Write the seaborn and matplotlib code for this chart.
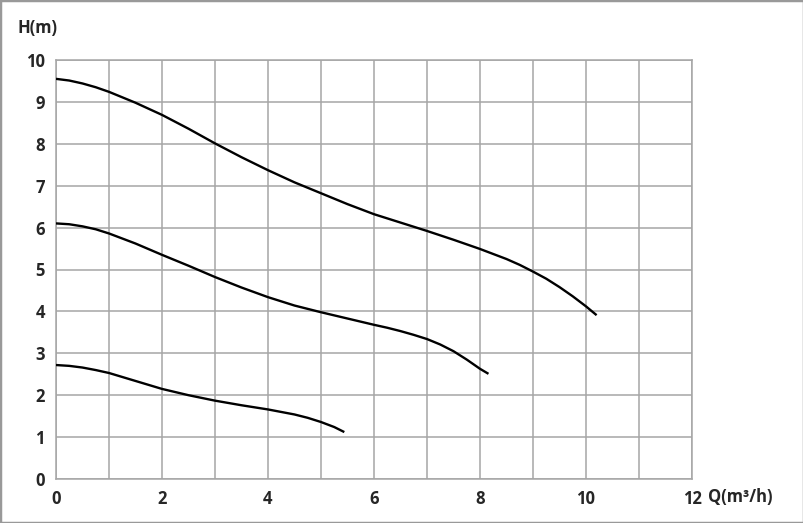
import matplotlib
matplotlib.use("Agg")
import matplotlib.pyplot as plt
import seaborn as sns
import pandas as pd
from matplotlib.patches import Rectangle

q_high = [0, 0.25, 0.5, 0.75, 1, 1.5, 2, 2.5, 3, 3.5, 4, 4.5, 5, 5.5, 6, 6.5, 7, 7.5, 8, 8.5, 8.75, 9, 9.25, 9.5, 9.75, 10, 10.2]
h_high = [9.55, 9.51, 9.44, 9.35, 9.24, 8.98, 8.69, 8.36, 8.01, 7.68, 7.37, 7.08, 6.82, 6.56, 6.32, 6.12, 5.92, 5.71, 5.49, 5.25, 5.11, 4.95, 4.78, 4.58, 4.36, 4.12, 3.91]

q_mid = [0, 0.25, 0.5, 0.75, 1, 1.5, 2, 2.5, 3, 3.5, 4, 4.5, 5, 5.5, 6, 6.25, 6.5, 6.75, 7, 7.25, 7.5, 7.75, 8, 8.16]
h_mid = [6.10, 6.08, 6.03, 5.96, 5.86, 5.62, 5.35, 5.09, 4.82, 4.57, 4.34, 4.14, 3.98, 3.83, 3.68, 3.61, 3.53, 3.44, 3.34, 3.21, 3.05, 2.85, 2.63, 2.51]

q_low = [0, 0.25, 0.5, 0.75, 1, 1.5, 2, 2.5, 3, 3.5, 4, 4.5, 4.75, 5, 5.25, 5.44]
h_low = [2.72, 2.70, 2.66, 2.60, 2.53, 2.34, 2.15, 2.00, 1.87, 1.76, 1.66, 1.54, 1.46, 1.36, 1.24, 1.12]

x_ticks = [0, 2, 4, 6, 8, 10, 12]
y_ticks = [0, 1, 2, 3, 4, 5, 6, 7, 8, 9, 10]

df = pd.concat([
    pd.DataFrame({"Q": q_high, "H": h_high, "curve": "high"}),
    pd.DataFrame({"Q": q_mid, "H": h_mid, "curve": "mid"}),
    pd.DataFrame({"Q": q_low, "H": h_low, "curve": "low"}),
])

sns.set_style("white")
plt.rcParams['font.family'] = ['Open Sans', 'DejaVu Sans']

fig = plt.figure(figsize=(8.04, 5.23), dpi=100)
ax = fig.add_axes([56/804, 44/523, 636/804, 419/523])

grid_c = "#a6a6a6"
for v in range(0, 13):
    ax.axvline(v, color=grid_c, lw=1.1, zorder=0)
for v in range(0, 11):
    ax.axhline(v, color=grid_c, lw=1.1, zorder=0)

sns.lineplot(data=df, x="Q", y="H", hue="curve", units="curve", estimator=None,
             palette={"high": "black", "mid": "black", "low": "black"},
             lw=1.7, legend=False, sort=False, ax=ax, zorder=3)
for line in ax.get_lines():
    line.set_solid_joinstyle("round")
    line.set_solid_capstyle("butt")

ax.set_xlim(0, 12)
ax.set_ylim(0, 10)
ax.set_xticks(x_ticks)
ax.set_yticks(y_ticks)
ax.set_xticklabels([str(t) for t in x_ticks], fontweight="bold", fontsize=12)
ax.set_yticklabels([str(t) for t in y_ticks], fontweight="bold", fontsize=12)
ax.tick_params(axis="both", direction="out", length=5, width=1, color=grid_c, pad=3)
ax.set_xlabel("")
ax.set_ylabel("")
for s in ax.spines.values():
    s.set_color(grid_c)
    s.set_linewidth(1.1)

fig.text(18/804, 1 - 28/523, "H(m)", fontweight="bold", fontsize=12, va="center", ha="left")
fig.text(708/804, 1 - 497/523, "Q(m³/h)", fontweight="bold", fontsize=12, va="center", ha="left")

fig.patches.append(Rectangle((0, 0), 1, 1, transform=fig.transFigure, fill=False,
                             edgecolor="#999999", lw=2.5, zorder=10))

fig.savefig("out.png", dpi=100)
